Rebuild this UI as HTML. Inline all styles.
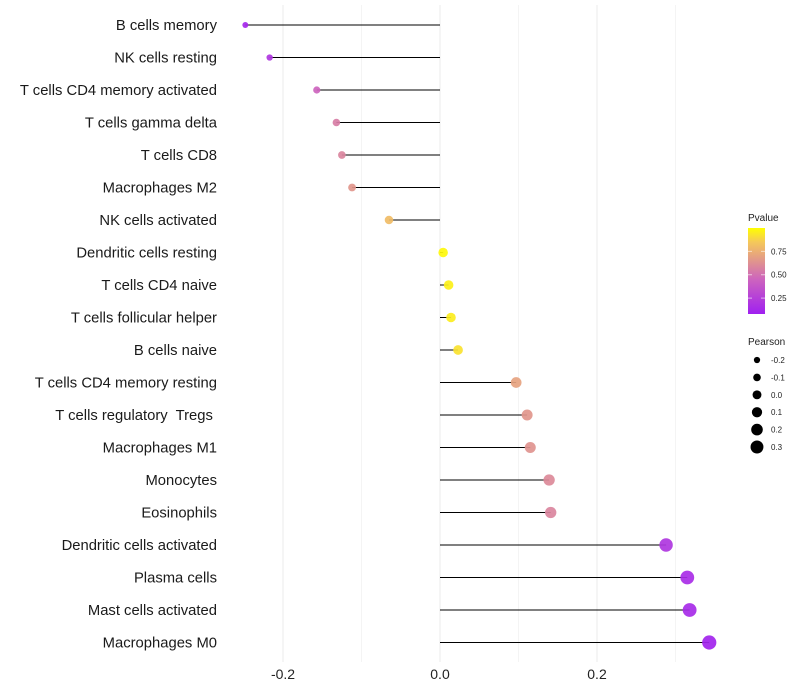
<!DOCTYPE html>
<html><head><meta charset="utf-8"><style>
body{margin:0;background:#fff;}
svg{display:block;font-family:"Liberation Sans",sans-serif;}
</style></head><body>
<svg id="chart" width="800" height="700"></svg>
<script>
const categories=["B cells memory","NK cells resting","T cells CD4 memory activated","T cells gamma delta","T cells CD8","Macrophages M2","NK cells activated","Dendritic cells resting","T cells CD4 naive","T cells follicular helper","B cells naive","T cells CD4 memory resting","T cells regulatory  Tregs ","Macrophages M1","Monocytes","Eosinophils","Dendritic cells activated","Plasma cells","Mast cells activated","Macrophages M0"];
const pearson=[-0.248,-0.217,-0.157,-0.132,-0.125,-0.112,-0.065,0.004,0.011,0.014,0.023,0.097,0.111,0.115,0.139,0.141,0.288,0.315,0.318,0.343];
const pvalues=[0.12,0.2,0.45,0.55,0.58,0.65,0.8,0.98,0.96,0.95,0.92,0.7,0.65,0.64,0.6,0.58,0.2,0.15,0.14,0.1];
const xTicks=[-0.2,0.0,0.2];
const xMinor=[-0.1,0.1,0.3];
const pTicks=[0.25,0.5,0.75];
const sizeLegend=[-0.2,-0.1,0.0,0.1,0.2,0.3];

const NS="http://www.w3.org/2000/svg";
const svg=document.getElementById('chart');
function mk(t,a,p){const e=document.createElementNS(NS,t);for(const k in a)e.setAttribute(k,a[k]);(p||svg).appendChild(e);return e;}
const x=v=>440+v*785;
const y=i=>25+i*32.5;
const r=v=>4.7+7*v;
function lerp(a,b,t){return a.map((c,i)=>Math.round(c+(b[i]-c)*t));}
const stops=[[0.08,[160,32,240]],[0.45,[205,100,190]],[0.65,[225,150,140]],[0.85,[245,200,90]],[1.0,[255,255,0]]];
function col(p){p=Math.max(0.08,Math.min(1,p));for(let i=0;i<stops.length-1;i++){if(p<=stops[i+1][0]){const t=(p-stops[i][0])/(stops[i+1][0]-stops[i][0]);return 'rgb('+lerp(stops[i][1],stops[i+1][1],t).join(',')+')';}}return 'rgb(255,255,0)';}

xMinor.forEach(v=>{const l=mk('line',{x1:x(v),x2:x(v),y1:5,y2:662,stroke:'#f4f4f4','stroke-width':1});

});
xTicks.forEach(v=>{const l=mk('line',{x1:x(v),x2:x(v),y1:5,y2:662,stroke:'#ebebeb','stroke-width':1});


const t=mk('text',{x:x(v),y:679,'text-anchor':'middle','font-size':14,fill:'#222'});
t.textContent=v.toFixed(1);

});

categories.forEach((c,i)=>{
const t=mk('text',{x:217,y:y(i)+5,'text-anchor':'end','font-size':14.8,fill:'#1a1a1a',style:'white-space:pre'});
t.textContent=c;


const l=mk('line',{x1:x(0),x2:x(pearson[i]),y1:y(i),y2:y(i),stroke:'#000','stroke-width':1});


const d=mk('circle',{cx:x(pearson[i]),cy:y(i),r:r(pearson[i]),fill:col(pvalues[i]),'fill-opacity':0.92});


});

const defs=mk('defs',{});
const g=mk('linearGradient',{id:'pg',x1:0,y1:1,x2:0,y2:0},defs);
stops.forEach(s=>{const t=(s[0]-0.08)/(1-0.08);mk('stop',{offset:t,'stop-color':'rgb('+s[1].join(',')+')'},g);});
const lt=mk('text',{x:748,y:221,'font-size':10,fill:'#222'});lt.textContent='Pvalue';


const bar=mk('rect',{x:748,y:228,width:17,height:86,fill:'url(#pg)'});


const py=p=>314-(p-0.08)/(0.92)*86;
pTicks.forEach(p=>{mk('line',{x1:748,x2:752,y1:py(p),y2:py(p),stroke:'#fff','stroke-opacity':0.6});mk('line',{x1:761,x2:765,y1:py(p),y2:py(p),stroke:'#fff','stroke-opacity':0.6});
const t=mk('text',{x:771,y:py(p)+3,'font-size':8,fill:'#222'});t.textContent=p.toFixed(2);

});
const st=mk('text',{x:748,y:345,'font-size':10,fill:'#222'});st.textContent='Pearson';


sizeLegend.forEach((v,i)=>{const cy=360+i*17.4;
const c=mk('circle',{cx:757,cy:cy,r:r(v)*0.95,fill:'#000'});


const t=mk('text',{x:771,y:cy+3,'font-size':8,fill:'#222'});t.textContent=v.toFixed(1);

});
</script>
</body></html>
